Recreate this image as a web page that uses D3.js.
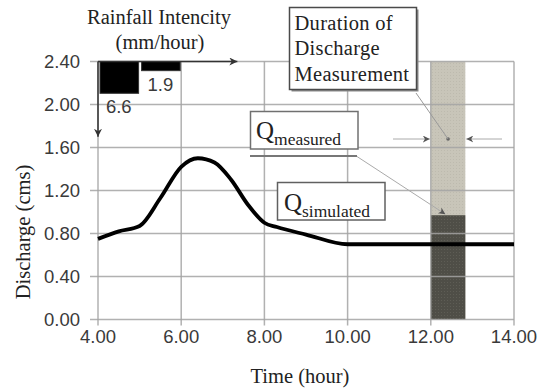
<!DOCTYPE html>
<html><head><meta charset="utf-8">
<script src="https://cdn.jsdelivr.net/npm/d3@7"></script>
<style>body{margin:0;background:#fff}
.serif{font-family:"Liberation Serif","Times New Roman","DejaVu Serif",serif}
.sans{font-family:"Liberation Sans",Arial,sans-serif}
</style>
</head><body><svg id="c" width="547" height="392"></svg>
<script>
const hours = [4.0,4.5,5.0,5.5,6.0,6.4,6.8,7.2,7.6,8.0,8.3,9.0,10.0,11.0,12.0,13.0,14.0];
const qSimulated = [0.75,0.82,0.87,1.13,1.42,1.50,1.46,1.30,1.07,0.90,0.86,0.79,0.70,0.70,0.70,0.70,0.70];
const rainStart = [4,5];
const rainEnd = [5,6];
const rainValues = [6.6,1.9];
const xTicks = [4,6,8,10,12,14];
const yTicks = [0,0.4,0.8,1.2,1.6,2.0,2.4];
const measureStart = 12.0, measureEnd = 12.83, qMeasured = 0.97;

const svg = d3.select("#c");
const x = d3.scaleLinear().domain([4,14]).range([98,514]);
const y = d3.scaleLinear().domain([0,2.4]).range([319.5,61.5]);
const yr = d3.scaleLinear().domain([0,6.6]).range([61.5,93.3]);
const fmt = d3.format(".2f");
const grid = "#a3a3a3";

const defs = svg.append("defs");
function marker(id, color, w, h){
  defs.append("marker").attr("id",id).attr("viewBox","0 0 10 10").attr("refX",10).attr("refY",5)
    .attr("markerWidth",w).attr("markerHeight",h).attr("orient","auto").attr("markerUnits","userSpaceOnUse")
    .append("path").attr("d","M0,0 L10,5 L0,10 L3,5 z").attr("fill",color);
}
marker("arrDark","#333",8,8);
marker("arrGray","#555",7,7);
const pat = defs.append("pattern").attr("id","dots").attr("width",3).attr("height",3).attr("patternUnits","userSpaceOnUse");
pat.append("rect").attr("width",3).attr("height",3).attr("fill","#c8c5b9");
pat.append("rect").attr("width",1).attr("height",1).attr("fill","#bdbaae");
const pat2 = defs.append("pattern").attr("id","dots2").attr("width",3).attr("height",3).attr("patternUnits","userSpaceOnUse");
pat2.append("rect").attr("width",3).attr("height",3).attr("fill","#4f4e47");
pat2.append("rect").attr("width",1).attr("height",1).attr("fill","#5e5d55");

// measurement band
svg.append("rect").attr("x",x(measureStart)).attr("width",x(measureEnd)-x(measureStart))
  .attr("y",y(2.4)).attr("height",y(0)-y(2.4)).attr("fill","url(#dots)");
svg.append("rect").attr("x",x(measureStart)).attr("width",x(measureEnd)-x(measureStart))
  .attr("y",y(qMeasured)).attr("height",y(0)-y(qMeasured)).attr("fill","url(#dots2)");

// gridlines
svg.append("g").selectAll("line").data(yTicks).join("line")
  .attr("x1",x(4)-8).attr("x2",x(14)).attr("y1",d=>y(d)).attr("y2",d=>y(d))
  .attr("stroke",grid).attr("stroke-width",1.5).attr("stroke-opacity",0.85);
svg.append("g").selectAll("line").data(xTicks).join("line")
  .attr("x1",d=>x(d)).attr("x2",d=>x(d)).attr("y1",y(2.4)).attr("y2",y(0)+6)
  .attr("stroke",grid).attr("stroke-width",1.5).attr("stroke-opacity",0.85);

// tick labels
svg.append("g").selectAll("text").data(yTicks).join("text").attr("class","sans")
  .attr("x",80).attr("y",d=>y(d)).attr("dy","0.36em").attr("text-anchor","end")
  .attr("font-size",18.5).attr("fill","#3a3a3a")
  .text(fmt);
svg.append("g").selectAll("text").data(xTicks).join("text").attr("class","sans")
  .attr("x",d=>x(d)).attr("y",342.5).attr("text-anchor","middle")
  .attr("font-size",18.5).attr("fill","#3a3a3a")
  .text(fmt);

// axis titles
svg.append("text").attr("class","serif").attr("x",300).attr("y",383).attr("text-anchor","middle")
  .attr("font-size",20.5).attr("fill","#222").text("Time (hour)");
svg.append("text").attr("class","serif").attr("transform","translate(29.5,232) rotate(-90)").attr("text-anchor","middle")
  .attr("font-size",20.5).attr("fill","#222").text("Discharge (cms)");
svg.append("text").attr("class","serif").attr("x",159).attr("y",24).attr("text-anchor","middle")
  .attr("font-size",20.5).attr("fill","#222").text("Rainfall Intencity");
svg.append("text").attr("class","serif").attr("x",160).attr("y",48.5).attr("text-anchor","middle")
  .attr("font-size",20.5).attr("fill","#222").text("(mm/hour)");

// rainfall bars
const rain = rainValues.map((v,i)=>({v, s:rainStart[i], e:rainEnd[i]}));
svg.append("g").selectAll("rect").data(rain).join("rect")
  .attr("x",d=>x(d.s)+2).attr("width",d=>x(d.e)-x(d.s)-3)
  .attr("y",yr(0)).attr("height",d=>yr(d.v)-yr(0))
  .attr("fill","#000").attr("stroke","#333").attr("stroke-width",1);
svg.append("g").selectAll("text").data(rain).join("text").attr("class","sans")
  .attr("x",d=>(x(d.s)+x(d.e))/2).attr("y",d=>yr(d.v)+20).attr("text-anchor","middle")
  .attr("font-size",18.5).attr("fill","#3a3a3a")
  .text(d=>d.v.toFixed(1));
// rainfall axis arrows
svg.append("line").attr("x1",x(4)).attr("x2",x(7.35)).attr("y1",y(2.4)).attr("y2",y(2.4))
  .attr("stroke","#333").attr("stroke-width",1.5).attr("marker-end","url(#arrDark)");
svg.append("line").attr("x1",x(4)).attr("x2",x(4)).attr("y1",y(2.4)).attr("y2",y(1.70))
  .attr("stroke","#333").attr("stroke-width",1.5).attr("marker-end","url(#arrDark)");

// simulated line
const pts = hours.map((h,i)=>[h,qSimulated[i]]);
svg.append("path").datum(pts)
  .attr("d",d3.line().x(d=>x(d[0])).y(d=>y(d[1])).curve(d3.curveMonotoneX))
  .attr("fill","none").attr("stroke","#000").attr("stroke-width",3.8).attr("stroke-linejoin","round");

// duration arrows
const midY = 139;
svg.append("line").attr("x1",393).attr("x2",x(measureStart)-1).attr("y1",midY).attr("y2",midY)
  .attr("stroke","#aaa").attr("stroke-width",1).attr("marker-end","url(#arrGray)");
svg.append("line").attr("x1",502).attr("x2",x(measureEnd)+1).attr("y1",midY).attr("y2",midY)
  .attr("stroke","#aaa").attr("stroke-width",1).attr("marker-end","url(#arrGray)");
svg.append("circle").attr("cx",(x(measureStart)+x(measureEnd))/2).attr("cy",midY).attr("r",1.8).attr("fill","#666");

// leader lines
svg.append("line").attr("x1",416).attr("y1",93).attr("x2",(x(measureStart)+x(measureEnd))/2).attr("y2",midY)
  .attr("stroke","#999").attr("stroke-width",1);
svg.append("line").attr("x1",357).attr("y1",156.5).attr("x2",x(12.35)).attr("y2",y(qMeasured)-1)
  .attr("stroke","#aaa").attr("stroke-width",1).attr("marker-end","url(#arrGray)");

// Duration box
svg.append("rect").attr("x",291.5).attr("y",9.5).attr("width",127).attr("height",82).attr("fill","#8a8a8a");
svg.append("rect").attr("x",289.5).attr("y",7.5).attr("width",127).attr("height",82)
  .attr("fill","#fff").attr("stroke","#4a4a4a").attr("stroke-width",1.5);
["Duration of","Discharge","Measurement"].forEach((t,i)=>{
  svg.append("text").attr("class","serif").attr("x",294.5).attr("y",30+i*25.3).attr("font-size",20.5)
    .attr("fill","#222").attr("letter-spacing",0.3).text(t);
});

// Q measured box
svg.append("rect").attr("x",250.5).attr("y",111.5).attr("width",107.5).attr("height",37.5)
  .attr("fill","#fff").attr("stroke","#707070").attr("stroke-width",1.5);
svg.append("line").attr("x1",250).attr("x2",357).attr("y1",156).attr("y2",156).attr("stroke","#777").attr("stroke-width",2);
const qm = svg.append("text").attr("class","serif").attr("x",256).attr("y",138.5).attr("fill","#222");
qm.append("tspan").attr("font-size",25).text("Q");
qm.append("tspan").attr("font-size",17.5).attr("dy",6).text("measured");

// Q simulated box
svg.append("rect").attr("x",277.5).attr("y",182.5).attr("width",107.5).attr("height",37.5)
  .attr("fill","#fff").attr("stroke","#606060").attr("stroke-width",1.5);
const qs = svg.append("text").attr("class","serif").attr("x",284).attr("y",211).attr("fill","#222");
qs.append("tspan").attr("font-size",25).text("Q");
qs.append("tspan").attr("font-size",17.5).attr("dy",5.5).text("simulated");
</script></body></html>
